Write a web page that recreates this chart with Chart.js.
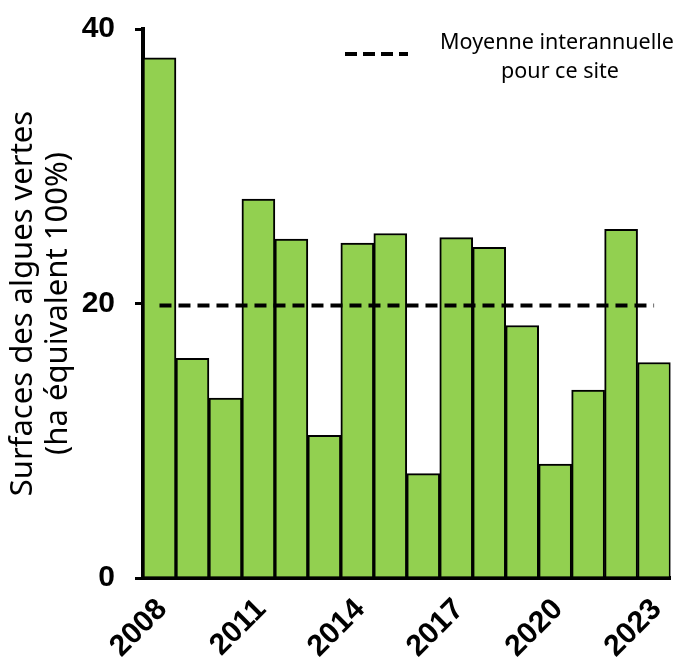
<!DOCTYPE html>
<html lang="fr">
<head>
    <meta charset="UTF-8">
    <title>Surfaces des algues vertes</title>
    <script src="https://cdn.jsdelivr.net/npm/chart.js@4.4.1/dist/chart.umd.min.js"></script>
    <style>
        html, body { margin: 0; padding: 0; background: #fff; }
        #wrap { width: 686px; height: 665px; }
    </style>
</head>
<body>
    <div id="wrap">
        <canvas id="algaeChart" width="686" height="665"></canvas>
    </div>

    <script>
        // data
        var years = ['2008', '2009', '2010', '2011', '2012', '2013', '2014', '2015',
                     '2016', '2017', '2018', '2019', '2020', '2021', '2022', '2023'];
        var surfaces = [37.9, 16.0, 13.1, 27.6, 24.7, 10.4, 24.4, 25.1,
                        7.6, 24.8, 24.1, 18.4, 8.3, 13.7, 25.4, 15.7];
        var meanValue = 19.85;
        var yTicks = [0, 20, 40];
        var legendLines = ['Moyenne interannuelle', 'pour ce site'];
        var yTitle = ['Surfaces des algues vertes', '(ha \u00e9quivalent 100%)'];

        var meanLine = years.map(function() { return meanValue; });

        // legend drawn by hand: dashed sample + two centred lines of text
        var meanLegend = {
            id: 'meanLegend',
            afterDraw: function(chart) {
                var ctx = chart.ctx;
                ctx.save();
                ctx.strokeStyle = '#000';
                ctx.lineWidth = 4;
                ctx.setLineDash([12, 6]);
                ctx.beginPath();
                ctx.moveTo(345, 54);
                ctx.lineTo(408, 54);
                ctx.stroke();
                ctx.setLineDash([]);
                ctx.fillStyle = '#000';
                ctx.font = '21.5px "Noto Sans"';
                ctx.textAlign = 'center';
                ctx.textBaseline = 'alphabetic';
                ctx.fillText(legendLines[0], 557, 49);
                ctx.fillText(legendLines[1], 560, 78);
                ctx.restore();
            }
        };

        var chart = new Chart(document.getElementById('algaeChart'), {
            type: 'bar',
            data: {
                labels: years,
                datasets: [{
                    type: 'line',
                    label: legendLines.join(' '),
                    data: meanLine,
                    borderColor: '#000',
                    borderWidth: 4,
                    borderDash: [12, 7],
                    pointRadius: 0,
                    fill: false,
                    order: 0
                }, {
                    label: 'Surfaces',
                    data: surfaces,
                    backgroundColor: '#92D050',
                    borderColor: '#000',
                    borderWidth: 2,
                    categoryPercentage: 1.0,
                    barPercentage: 1.0,
                    order: 1
                }]
            },
            options: {
                responsive: false,
                animation: false,
                layout: { padding: { top: 29, right: 15, left: 0, bottom: 0 } },
                plugins: {
                    legend: { display: false },
                    tooltip: { enabled: false }
                },
                scales: {
                    x: {
                        grid: { display: false },
                        border: { display: true, color: '#000', width: 4 },
                        ticks: {
                            autoSkip: false,
                            minRotation: 45,
                            maxRotation: 45,
                            color: '#000',
                            padding: 6,
                            labelOffset: 3,
                            font: { family: '"Liberation Sans", Arial, sans-serif', size: 30, weight: 'bold' },
                            callback: function(value, index) {
                                return index % 3 === 0 ? years[index] : '';
                            }
                        },
                        afterFit: function(scale) { scale.height = 87; }
                    },
                    y: {
                        min: 0,
                        max: 40,
                        afterBuildTicks: function(scale) {
                            scale.ticks = yTicks.map(function(v) { return { value: v }; });
                        },
                        grid: {
                            drawOnChartArea: false,
                            drawTicks: true,
                            tickLength: 8,
                            color: '#000',
                            lineWidth: 3
                        },
                        border: { display: true, color: '#000', width: 4 },
                        ticks: {
                            color: '#000',
                            padding: 20,
                            font: { family: '"Liberation Sans", Arial, sans-serif', size: 30, weight: 'bold' }
                        },
                        title: {
                            display: true,
                            text: yTitle,
                            color: '#000',
                            padding: { top: 6, bottom: 0 },
                            font: { family: '"Noto Sans", sans-serif', size: 31, lineHeight: 1.13 }
                        },
                        afterFit: function(scale) {
                            scale.width = 143;
                            scale.paddingTop = 0;
                            scale.paddingBottom = 0;
                        }
                    }
                }
            },
            plugins: [meanLegend]
        });
    </script>
</body>
</html>
